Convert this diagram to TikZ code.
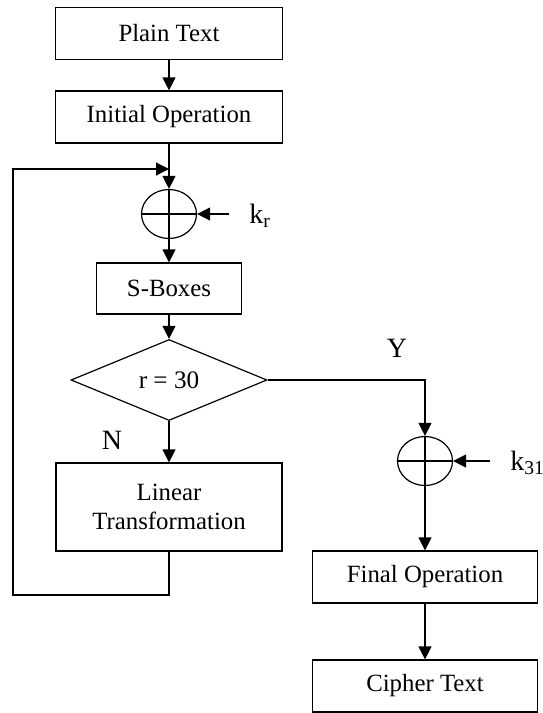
\documentclass[tikz,border=0pt]{standalone}
\usepackage{fontspec}
\setmainfont{Liberation Serif}
\usetikzlibrary{arrows.meta,shapes.geometric}

\begin{document}
\begin{tikzpicture}[x=0.5pt,y=-0.5pt,line width=0.6pt,
  >={Triangle[length=6.5pt,width=6.5pt]},
  blk/.style={draw,rectangle,inner sep=0pt,align=center,
    minimum height=26pt,font=\fontsize{12.4}{14.5}\selectfont},
  xorop/.style={draw,ellipse,inner sep=0pt,
    minimum width=27.5pt,minimum height=24.5pt},
  cond/.style={draw,diamond,inner sep=0pt,aspect=2.4,
    minimum width=98pt,minimum height=40.5pt,
    font=\fontsize{12.6}{14.5}\selectfont},
  lbl/.style={font=\fontsize{14}{16}\selectfont}]

  \useasboundingbox (0,0) rectangle (542,713);

  % left column
  \node[blk,minimum width=113.5pt] (plain) at (169,33.5) {Plain Text};
  \node[blk,minimum width=113.5pt] (init) at (169,117) {Initial Operation};
  \node[xorop] (xa) at (169,214) {};
  \node[blk,minimum width=72.5pt,minimum height=25.5pt]
    (sbox) at (169,288.5) {S-Boxes};
  \node[cond] (rtest) at (169,380) {r = 30};
  \node[blk,minimum width=113pt,minimum height=44pt]
    (lin) at (169,507) {Linear\\Transformation};

  % right column
  \node[xorop] (xb) at (425,461) {};
  \node[blk,minimum width=112.5pt] (final) at (425,577) {Final Operation};
  \node[blk,minimum width=112.5pt] (ciph) at (425,686) {Cipher Text};

  % key inputs
  \coordinate (krin) at (229,214);
  \coordinate (kbin) at (490,461);
  \node[lbl,anchor=west] (kr) at (242,216) {k\textsubscript{r}};
  \node[lbl,anchor=west] (kb) at (503,463) {k\textsubscript{31}};

  % branch labels
  \node[lbl] (yes) at (397,348) {Y};
  \node[lbl] (no) at (112,440) {N};

  % xor crosses
  \draw (xa.north) -- (xa.south) (xa.west) -- (xa.east);
  \draw (xb.north) -- (xb.south) (xb.west) -- (xb.east);

  \draw[->] (plain) -- (init);
  \draw[->] (init) -- (xa);
  \draw[->] (krin) -- (xa.east);
  \draw[->] (xa) -- (sbox);
  \draw[->] (sbox) -- (rtest);
  \draw[->] (rtest) -- (lin);

  % loop back for the next round
  \coordinate (loopbot) at (13,595);
  \coordinate (looptop) at (13,169);
  \draw[->] (lin.south) |- (loopbot) -- (looptop) -- (xa.north |- looptop);

  \draw[->] (rtest.east) -| (xb.north);
  \draw[->] (kbin) -- (xb.east);
  \draw[->] (xb) -- (final);
  \draw[->] (final) -- (ciph);

\end{tikzpicture}
\end{document}
